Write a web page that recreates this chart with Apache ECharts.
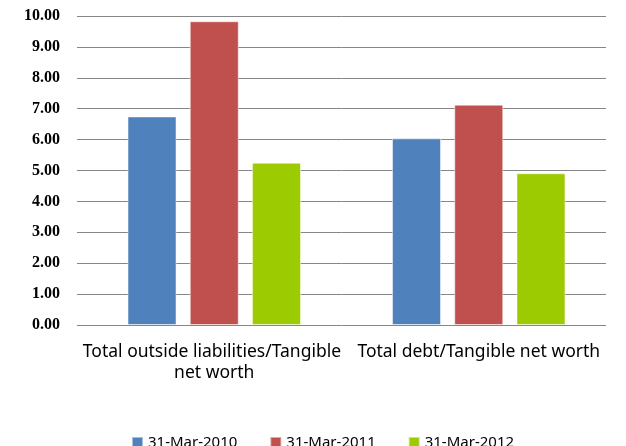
<!DOCTYPE html>
<html>
<head>
<meta charset="utf-8">
<script src="https://cdn.jsdelivr.net/npm/echarts@6/dist/echarts.min.js"></script>
<style>
  html, body { margin: 0; padding: 0; background: #fff; }
  #chart { width: 626px; height: 446px; }
</style>
</head>
<body>
<div id="chart"></div>
<script>
const categories = ['Total outside liabilities/Tangible net worth', 'Total debt/Tangible net worth']
const seriesNames = ['31-Mar-2010', '31-Mar-2011', '31-Mar-2012']
const mar2010 = [6.75, 6.04]
const mar2011 = [9.83, 7.13]
const mar2012 = [5.25, 4.91]
const colors = ['#4f81bd', '#c0504d', '#9bcb00']

const chart = echarts.init(document.getElementById('chart'))
const values = [mar2010, mar2011, mar2012]

chart.setOption({
  animation: false,
  backgroundColor: '#ffffff',
  grid: [
    // gridlines + value labels
    { left: 77, right: 20, top: 16, bottom: 121, containLabel: false },
    // bars sit a little right of centre, as in the source
    { left: 82, right: 15, top: 16, bottom: 121, containLabel: false }
  ],
  legend: {
    data: seriesNames,
    top: 430,
    left: 126,
    itemWidth: 11,
    itemHeight: 11,
    itemGap: 32,
    icon: 'rect',
    textStyle: { fontFamily: 'Noto Sans', fontSize: 15, color: '#000' }
  },
  xAxis: [
    {
      type: 'category',
      gridIndex: 0,
      data: categories,
      show: false
    },
    {
      type: 'category',
      gridIndex: 1,
      data: categories,
      axisTick: { show: false },
      axisLine: { show: false },
      axisLabel: {
        margin: 17,
        interval: 0,
        width: 272,
        overflow: 'break',
        lineHeight: 21,
        fontFamily: 'Noto Sans',
        fontSize: 17.5,
        color: '#000'
      }
    }
  ],
  yAxis: [
    {
      type: 'value',
      gridIndex: 0,
      min: 0,
      max: 10,
      interval: 1,
      axisLine: { show: false },
      axisTick: { show: false },
      splitLine: { lineStyle: { color: '#868686', width: 1 } },
      axisLabel: {
        margin: 17,
        fontFamily: 'Liberation Serif',
        fontWeight: 'bold',
        fontSize: 16,
        color: '#000',
        formatter: v => v.toFixed(2)
      }
    },
    {
      type: 'value',
      gridIndex: 1,
      min: 0,
      max: 10,
      interval: 1,
      show: false,
      splitLine: { show: false }
    }
  ],
  series: seriesNames.map((name, i) => ({
    name: name,
    type: 'bar',
    xAxisIndex: 1,
    yAxisIndex: 1,
    data: values[i],
    barWidth: 49,
    barGap: '27%',
    itemStyle: { color: colors[i], borderColor: 'rgba(255,255,255,0.5)', borderWidth: 1 }
  }))
})
</script>
</body>
</html>
